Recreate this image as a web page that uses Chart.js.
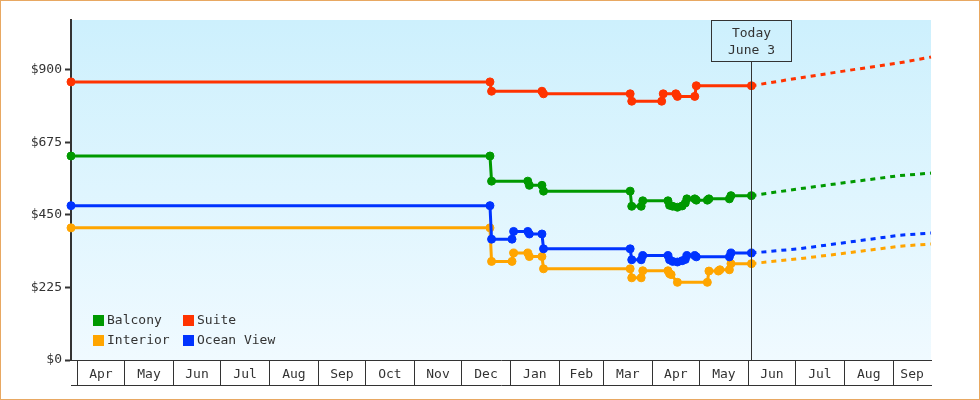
<!DOCTYPE html>
<html><head><meta charset="utf-8">
<script src="https://cdn.jsdelivr.net/npm/chart.js@4.4.0/dist/chart.umd.min.js"></script>
<style>html,body{margin:0;padding:0;background:#fff;}canvas{display:block;}</style>
</head><body>
<canvas id="c" width="980" height="400"></canvas>
<script>
// ---- data ----
const xMin = '2018-03-28';
const xMax = '2019-09-25';
const todayDate = '2019-06-03';
const todayLines = ['Today', 'June 3'];
const monthStarts = ['2018-04-01','2018-05-01','2018-06-01','2018-07-01','2018-08-01','2018-09-01','2018-10-01','2018-11-01','2018-12-01','2019-01-01','2019-02-01','2019-03-01','2019-04-01','2019-05-01','2019-06-01','2019-07-01','2019-08-01','2019-09-01'];
const monthLabels = ['Apr','May','Jun','Jul','Aug','Sep','Oct','Nov','Dec','Jan','Feb','Mar','Apr','May','Jun','Jul','Aug','Sep'];
const yTicks = [0, 225, 450, 675, 900];
const yMax = 1055;

const seriesNames = ['Balcony', 'Suite', 'Interior', 'Ocean View'];
const seriesColors = ['#009900', '#ff3300', '#ffa500', '#0033ff'];

const balconyDates = ['2018-03-28','2018-12-19','2018-12-20','2019-01-12','2019-01-13','2019-01-21','2019-01-22','2019-03-18','2019-03-19','2019-03-25','2019-03-26','2019-04-11','2019-04-12','2019-04-14','2019-04-17','2019-04-20','2019-04-22','2019-04-23','2019-04-28','2019-04-29','2019-05-06','2019-05-07','2019-05-20','2019-05-21','2019-06-03'];
const balconyValues = [633,633,555,555,542,542,524,524,477,477,494,494,480,477,474,478,487,500,500,496,496,500,500,510,510];

const suiteDates = ['2018-03-28','2018-12-19','2018-12-20','2019-01-21','2019-01-22','2019-03-18','2019-03-19','2019-04-07','2019-04-08','2019-04-16','2019-04-17','2019-04-28','2019-04-29','2019-06-03'];
const suiteValues = [863,863,834,834,826,826,803,803,826,826,818,818,851,851];

const interiorDates = ['2018-03-28','2018-12-19','2018-12-20','2019-01-02','2019-01-03','2019-01-12','2019-01-13','2019-01-21','2019-01-22','2019-03-18','2019-03-19','2019-03-25','2019-03-26','2019-04-11','2019-04-12','2019-04-13','2019-04-17','2019-05-06','2019-05-07','2019-05-13','2019-05-14','2019-05-20','2019-05-21','2019-06-03'];
const interiorValues = [410,410,306,306,332,332,321,321,283,283,255,255,277,277,268,265,241,241,276,276,280,280,299,299];

const oceanDates = ['2018-03-28','2018-12-19','2018-12-20','2019-01-02','2019-01-03','2019-01-12','2019-01-13','2019-01-21','2019-01-22','2019-03-18','2019-03-19','2019-03-25','2019-03-26','2019-04-11','2019-04-12','2019-04-14','2019-04-17','2019-04-20','2019-04-22','2019-04-23','2019-04-28','2019-04-29','2019-05-20','2019-05-21','2019-06-03'];
const oceanValues = [479,479,375,375,399,399,391,391,345,345,311,311,324,324,311,306,304,308,312,324,324,320,320,332,332];

const forecastDates = ['2019-07-03','2019-08-04','2019-09-05','2019-09-25'];
const balconyForecast = [531,552,572,580];
const suiteForecast = [875,899,922,940];
const interiorForecast = [314,333,353,360];
const oceanForecast = [345,366,387,394];

// ---- build ----
const FONT = "'DejaVu Sans Mono', monospace";
const TEXT = '#333333';
const ms = s => Date.parse(s + 'T00:00:00Z');
const TODAY = ms(todayDate);
const X_MIN = ms(xMin), X_MAX = ms(xMax);
function buildPoints(dates, values, fDates, fValues) {
  const pts = dates.map((d, i) => ({x: ms(d), y: values[i]}));
  fDates.forEach((d, i) => pts.push({x: ms(d), y: fValues[i]}));
  return pts;
}
const starts = monthStarts.map(ms);
const startSet = new Set(starts);
const mids = starts.map((s, i) => {
  const e = i + 1 < starts.length ? starts[i + 1] : X_MAX;
  return (s + Math.min(e, X_MAX)) / 2;
});
const labelMap = new Map(mids.map((v, i) => [v, monthLabels[i]]));
const xTickValues = starts.concat(mids).filter(v => v >= X_MIN && v <= X_MAX).sort((a, b) => a - b);

const allSeries = [
  buildPoints(balconyDates, balconyValues, forecastDates, balconyForecast),
  buildPoints(suiteDates, suiteValues, forecastDates, suiteForecast),
  buildPoints(interiorDates, interiorValues, forecastDates, interiorForecast),
  buildPoints(oceanDates, oceanValues, forecastDates, oceanForecast)
];
const drawOrder = [1, 1, 1, 0];

const datasets = allSeries.map((pts, i) => ({
  label: seriesNames[i],
  data: pts,
  borderColor: seriesColors[i],
  backgroundColor: seriesColors[i],
  pointBackgroundColor: seriesColors[i],
  pointBorderColor: seriesColors[i],
  pointBorderWidth: 1,
  pointStyle: 'circle',
  pointRadius: c => (c.raw && c.raw.x > TODAY) ? 0 : 4,
  borderWidth: 3,
  tension: 0,
  fill: false,
  clip: false,
  order: drawOrder[i],
  segment: { borderDash: c => c.p0.parsed.x >= TODAY ? [5, 5] : undefined }
}));

const bgPlugin = {
  id: 'bg',
  beforeDraw(chart) {
    const {ctx, chartArea: a} = chart;
    ctx.save();
    ctx.fillStyle = '#ffffff';
    ctx.fillRect(0, 0, chart.width, chart.height);
    const g = ctx.createLinearGradient(0, a.top, 0, a.bottom);
    g.addColorStop(0, '#cdf0fd');
    g.addColorStop(1, '#f0faff');
    ctx.fillStyle = g;
    ctx.fillRect(a.left, a.top, a.right - a.left, a.bottom - a.top);
    ctx.restore();
  }
};

const todayPlugin = {
  id: 'today',
  afterDatasetsDraw(chart) {
    const {ctx, chartArea: a} = chart;
    const x = Math.round(chart.scales.x.getPixelForValue(TODAY)) + 0.5;
    const boxW = 80, boxH = 41;
    const top = a.top + 0.5;
    ctx.save();
    ctx.strokeStyle = TEXT;
    ctx.lineWidth = 1;
    ctx.beginPath();
    ctx.moveTo(x, top + boxH);
    ctx.lineTo(x, a.bottom);
    ctx.stroke();
    ctx.strokeRect(x - boxW / 2, top, boxW, boxH);
    ctx.fillStyle = TEXT;
    ctx.font = '13px ' + FONT;
    ctx.textAlign = 'center';
    ctx.textBaseline = 'middle';
    ctx.fillText(todayLines[0], x, top + 13);
    ctx.fillText(todayLines[1], x, top + 30);
    ctx.restore();
  }
};

const legendPlugin = {
  id: 'customLegend',
  afterDraw(chart) {
    const {ctx, chartArea: a} = chart;
    const cols = [a.left + 22, a.left + 112];
    const rows = [a.bottom - 40, a.bottom - 20];
    ctx.save();
    ctx.font = '13px ' + FONT;
    ctx.textBaseline = 'middle';
    ctx.textAlign = 'left';
    chart.data.datasets.forEach((ds, i) => {
      const cx = cols[i % 2], cy = rows[Math.floor(i / 2)];
      ctx.fillStyle = ds.borderColor;
      ctx.fillRect(cx, cy - 5, 11, 11);
      ctx.fillStyle = TEXT;
      ctx.fillText(ds.label, cx + 14, cy + 1);
    });
    ctx.restore();
  }
};

const framePlugin = {
  id: 'frame',
  afterDraw(chart) {
    const ctx = chart.ctx;
    ctx.save();
    ctx.strokeStyle = '#e8a862';
    ctx.lineWidth = 1;
    ctx.strokeRect(0.5, 0.5, chart.width - 1, chart.height - 1);
    ctx.restore();
  }
};

Chart.defaults.font.family = FONT;
Chart.defaults.font.size = 13;
Chart.defaults.color = TEXT;

new Chart(document.getElementById('c'), {
  type: 'line',
  data: { datasets },
  plugins: [bgPlugin, todayPlugin, legendPlugin, framePlugin],
  options: {
    responsive: false,
    animation: false,
    devicePixelRatio: 1,
    layout: { padding: { top: 20, left: 0, right: 49, bottom: 15 } },
    plugins: { legend: { display: false }, tooltip: { enabled: false } },
    scales: {
      x: {
        type: 'linear',
        position: 'bottom',
        min: X_MIN,
        max: X_MAX,
        afterBuildTicks: s => { s.ticks = xTickValues.map(v => ({value: v})); },
        afterFit: s => { s.height = 25; },
        grid: {
          display: true,
          drawOnChartArea: false,
          drawTicks: true,
          tickLength: 25,
          tickWidth: 1,
          tickColor: c => (c.tick && startSet.has(c.tick.value)) ? TEXT : 'rgba(0,0,0,0)',
          color: TEXT
        },
        border: { display: true, color: TEXT, width: 1 },
        ticks: {
          autoSkip: false,
          maxRotation: 0,
          minRotation: 0,
          padding: -18,
          color: TEXT,
          font: { size: 13, family: FONT },
          callback: v => labelMap.has(v) ? labelMap.get(v) : ''
        }
      },
      x2: {
        type: 'linear',
        position: 'bottom',
        display: true,
        min: X_MIN,
        max: X_MAX,
        afterFit: s => { s.height = 0; },
        grid: { display: true, drawOnChartArea: false, drawTicks: false },
        border: { display: true, color: TEXT, width: 1 },
        ticks: { display: false }
      },
      y: {
        type: 'linear',
        position: 'left',
        min: 0,
        max: yMax,
        afterBuildTicks: s => { s.ticks = yTicks.map(v => ({value: v})); },
        afterFit: s => { s.width = 71; },
        grid: {
          display: true,
          drawOnChartArea: false,
          drawTicks: true,
          tickLength: 6,
          tickWidth: 2,
          tickColor: TEXT,
          color: TEXT
        },
        border: { display: true, color: TEXT, width: 2 },
        ticks: {
          padding: 3,
          color: TEXT,
          font: { size: 13, family: FONT },
          callback: v => '$' + v
        }
      }
    }
  }
});
</script>
</body></html>
